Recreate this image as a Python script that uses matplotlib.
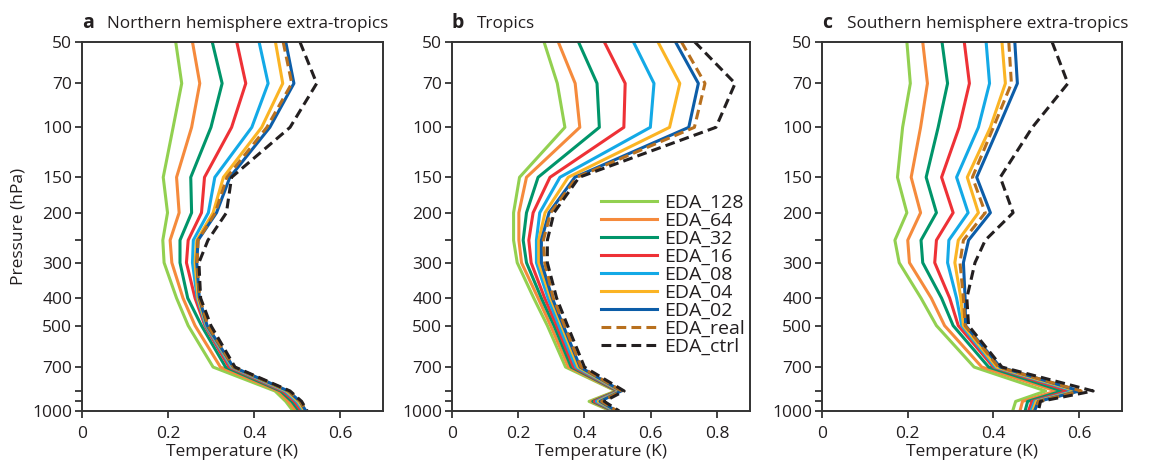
import matplotlib
matplotlib.use("Agg")
import matplotlib.pyplot as plt
from matplotlib.ticker import FixedLocator, NullFormatter, NullLocator

plt.rcParams["font.family"] = ["Open Sans", "DejaVu Sans"]

LEVELS = [50, 70, 100, 150, 200, 250, 300, 400, 500, 700, 850, 925, 1000]

NAMES = ["EDA_128", "EDA_64", "EDA_32", "EDA_16", "EDA_08", "EDA_04", "EDA_02", "EDA_real", "EDA_ctrl"]
COLORS = ["#92d050", "#f58a3c", "#00956a", "#ee3136", "#13a9e6", "#fbb424", "#0c5da8", "#b8701e", "#231f20"]

# panel a: Northern hemisphere extra-tropics
NH = {
    "EDA_128": [0.218, 0.232, 0.212, 0.189, 0.199, 0.188, 0.191, 0.220, 0.247, 0.305, 0.449, 0.474, 0.491],
    "EDA_64": [0.257, 0.274, 0.255, 0.220, 0.226, 0.205, 0.209, 0.235, 0.263, 0.322, 0.456, 0.480, 0.498],
    "EDA_32": [0.303, 0.326, 0.300, 0.253, 0.255, 0.228, 0.228, 0.246, 0.278, 0.334, 0.462, 0.488, 0.505],
    "EDA_16": [0.360, 0.381, 0.348, 0.285, 0.278, 0.247, 0.243, 0.263, 0.286, 0.342, 0.467, 0.494, 0.510],
    "EDA_08": [0.412, 0.433, 0.395, 0.309, 0.294, 0.259, 0.257, 0.268, 0.288, 0.347, 0.472, 0.499, 0.515],
    "EDA_04": [0.450, 0.467, 0.418, 0.329, 0.305, 0.267, 0.263, 0.270, 0.290, 0.350, 0.476, 0.503, 0.518],
    "EDA_02": [0.474, 0.493, 0.437, 0.344, 0.313, 0.270, 0.267, 0.273, 0.291, 0.352, 0.480, 0.507, 0.521],
    "EDA_real": [0.468, 0.488, 0.430, 0.337, 0.310, 0.270, 0.268, 0.274, 0.293, 0.353, 0.481, 0.508, 0.522],
    "EDA_ctrl": [0.507, 0.546, 0.484, 0.348, 0.336, 0.293, 0.272, 0.276, 0.300, 0.356, 0.484, 0.511, 0.524],
}

# panel b: Tropics
TR = {
    "EDA_128": [0.278, 0.318, 0.341, 0.204, 0.186, 0.186, 0.197, 0.247, 0.288, 0.343, 0.495, 0.414, 0.480],
    "EDA_64": [0.321, 0.372, 0.386, 0.225, 0.202, 0.202, 0.210, 0.260, 0.298, 0.352, 0.497, 0.420, 0.484],
    "EDA_32": [0.382, 0.438, 0.445, 0.260, 0.225, 0.215, 0.225, 0.270, 0.308, 0.360, 0.500, 0.425, 0.487],
    "EDA_16": [0.460, 0.523, 0.519, 0.296, 0.245, 0.232, 0.239, 0.280, 0.316, 0.367, 0.503, 0.430, 0.490],
    "EDA_08": [0.548, 0.610, 0.599, 0.326, 0.265, 0.255, 0.255, 0.290, 0.323, 0.374, 0.506, 0.436, 0.492],
    "EDA_04": [0.622, 0.688, 0.657, 0.351, 0.281, 0.262, 0.262, 0.298, 0.331, 0.381, 0.508, 0.442, 0.495],
    "EDA_02": [0.675, 0.744, 0.715, 0.371, 0.293, 0.270, 0.270, 0.303, 0.336, 0.387, 0.511, 0.447, 0.497],
    "EDA_real": [0.693, 0.764, 0.732, 0.377, 0.298, 0.276, 0.280, 0.306, 0.340, 0.390, 0.513, 0.452, 0.499],
    "EDA_ctrl": [0.733, 0.855, 0.797, 0.384, 0.308, 0.288, 0.288, 0.316, 0.349, 0.400, 0.520, 0.460, 0.505],
}

# panel c: Southern hemisphere extra-tropics
SH = {
    "EDA_128": [0.198, 0.206, 0.188, 0.176, 0.198, 0.170, 0.180, 0.231, 0.267, 0.355, 0.522, 0.452, 0.445],
    "EDA_64": [0.235, 0.246, 0.230, 0.208, 0.230, 0.200, 0.204, 0.255, 0.286, 0.373, 0.546, 0.468, 0.462],
    "EDA_32": [0.280, 0.293, 0.271, 0.243, 0.267, 0.231, 0.235, 0.279, 0.306, 0.389, 0.560, 0.480, 0.474],
    "EDA_16": [0.332, 0.344, 0.320, 0.279, 0.306, 0.267, 0.263, 0.298, 0.318, 0.400, 0.575, 0.490, 0.482],
    "EDA_08": [0.383, 0.391, 0.365, 0.314, 0.341, 0.296, 0.293, 0.314, 0.326, 0.404, 0.588, 0.496, 0.488],
    "EDA_04": [0.420, 0.428, 0.393, 0.339, 0.365, 0.318, 0.310, 0.324, 0.330, 0.408, 0.595, 0.500, 0.492],
    "EDA_02": [0.450, 0.456, 0.412, 0.361, 0.393, 0.342, 0.330, 0.334, 0.335, 0.416, 0.601, 0.505, 0.496],
    "EDA_real": [0.436, 0.442, 0.400, 0.351, 0.381, 0.330, 0.322, 0.330, 0.334, 0.412, 0.605, 0.506, 0.498],
    "EDA_ctrl": [0.537, 0.574, 0.491, 0.416, 0.446, 0.381, 0.357, 0.338, 0.342, 0.420, 0.633, 0.510, 0.505],
}

PANELS = [
    ("a", "Northern hemisphere extra-tropics", NH, [0, 0.2, 0.4, 0.6], 0.7),
    ("b", "Tropics", TR, [0, 0.2, 0.4, 0.6, 0.8], 0.9),
    ("c", "Southern hemisphere extra-tropics", SH, [0, 0.2, 0.4, 0.6], 0.7),
]

YTICKS = [50, 70, 100, 150, 200, 250, 300, 400, 500, 700, 850, 925, 1000]
YLABELS = ["50", "70", "100", "150", "200", "", "300", "400", "500", "700", "", "", "1000"]

fig = plt.figure(figsize=(11.53, 4.66), dpi=100)
lefts = [0.0711, 0.392, 0.713]
widths = [0.261, 0.2585, 0.260]
edge = "#333333"
txt = "#231f20"

for i, (letter, title, data, xticks, xmax) in enumerate(PANELS):
    ax = fig.add_axes([lefts[i], 0.118, widths[i], 0.792])
    for name, col in zip(NAMES, COLORS):
        if name in ("EDA_real", "EDA_ctrl"):
            ax.plot(data[name], LEVELS, color=col, lw=2.2, ls="--", dashes=(3.2, 1.7), label=name)
        else:
            ax.plot(data[name], LEVELS, color=col, lw=2.2, label=name)
    ax.set_yscale("log")
    ax.set_ylim(1000, 50)
    ax.set_xlim(0, xmax)
    ax.yaxis.set_major_locator(FixedLocator(YTICKS))
    ax.yaxis.set_minor_locator(NullLocator())
    ax.yaxis.set_minor_formatter(NullFormatter())
    ax.set_yticks(YTICKS)
    ax.set_yticklabels(YLABELS)
    ax.set_xticks(xticks)
    ax.set_xticklabels(["0" if x == 0 else f"{x:.1f}" for x in xticks])
    ax.tick_params(direction="out", length=5, width=1.3, color=edge, labelsize=12.5, labelcolor=txt, pad=2)
    ax.tick_params(axis="x", pad=6)
    for s in ax.spines.values():
        s.set_color(edge)
        s.set_linewidth(1.4)
    ax.set_xlabel("Temperature (K)", fontsize=12.5, color=txt, labelpad=1)
    if i == 0:
        ax.set_ylabel("Pressure (hPa)", fontsize=12.5, color=txt, labelpad=4)
    ax.annotate(letter, xy=(0, 1), xycoords="axes fraction", xytext=(0, 10),
                textcoords="offset points", fontsize=14, fontweight="bold", color=txt, va="baseline")
    ax.annotate(title, xy=(0, 1), xycoords="axes fraction", xytext=(18, 10),
                textcoords="offset points", fontsize=12.3, color=txt, va="baseline")
    if letter == "b":
        leg = ax.legend(loc="upper left", bbox_to_anchor=(0.50, 0.589), frameon=False, fontsize=14,
                        handlelength=2.9, handletextpad=0.35, labelspacing=0.0, borderpad=0, borderaxespad=0)
        for t in leg.get_texts():
            t.set_color(txt)

fig.savefig("out.png", dpi=100)
